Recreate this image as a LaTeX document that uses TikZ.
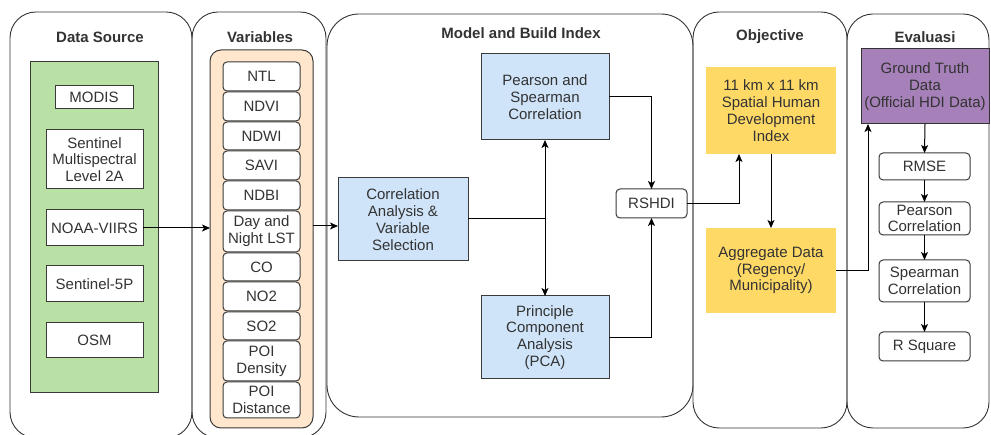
\documentclass[tikz,border=0pt]{standalone}
\usepackage{fontspec}
\setmainfont{Liberation Sans}
\usetikzlibrary{arrows.meta}
\definecolor{txt}{HTML}{333333}
\definecolor{greenf}{HTML}{B9E0A5}
\definecolor{orangef}{HTML}{FFE6CC}
\definecolor{bluef}{HTML}{CFE4F8}
\definecolor{yellowf}{HTML}{FFD966}
\definecolor{purplef}{HTML}{A680B8}
\definecolor{edge}{HTML}{3A3A3A}
\newcommand\bx[7]{%
  \pgfmathsetmacro\bw{#4-#2}\pgfmathsetmacro\bh{#5-#3}%
  \node[#6, minimum width=\bw pt, minimum height=\bh pt] (#1) at ({(#2+#4)/2},{(#3+#5)/2}) {#7};}
\tikzset{
  base/.style={inner sep=0pt, outer sep=0pt, align=center, text=txt,
    font=\fontsize{15}{16.8}\selectfont},
  panel/.style={base, draw=black!80, line width=0.9pt, rounded corners=26pt},
  ttl/.style={inner sep=0pt, text=txt, font=\fontsize{15}{17}\selectfont\bfseries},
  sq/.style={base, draw=edge, line width=1pt, fill=white},
  rnd/.style={base, draw=edge, line width=1pt, fill=white, rounded corners=4pt},
  greenbox/.style={base, draw=edge, line width=1pt, fill=greenf},
  orangebox/.style={base, draw=edge, line width=1pt, fill=orangef, rounded corners=11pt},
  bluebox/.style={base, draw=edge, line width=1pt, fill=bluef},
  yellowbox/.style={base, fill=yellowf},
  purplebox/.style={base, draw=black!80, line width=1pt, fill=purplef},
  arr/.style={draw=black, line width=1pt, -{Stealth[length=8pt,width=7pt,inset=2pt]}},
  ln/.style={draw=black, line width=1pt}
}
\begin{document}
\begin{tikzpicture}[x=1pt,y=-1pt]
\useasboundingbox[fill=white] (0,0) rectangle (991,435);
% panels
\bx{pds}{10}{12}{192}{438}{panel}{}
\bx{pvar}{192}{12}{326}{438}{panel}{}
\bx{pmod}{327}{14}{693}{417}{panel, rounded corners=32pt}{}
\bx{pobj}{693}{12}{847}{428}{panel}{}
\bx{peva}{847}{14}{989}{428}{panel}{}
% titles
\node[ttl] (tds) at (100,37) {Data Source};
\node[ttl] (tvar) at (260,37) {Variables};
\node[ttl] (tmod) at (521,33) {Model and Build Index};
\node[ttl] (tobj) at (770,37) {Objective};
\node[ttl] (teva) at (925,37) {Evaluasi};
% data source
\bx{green}{30}{62}{158}{393}{greenbox}{}
\bx{modis}{55}{86}{133}{109}{sq}{MODIS}
\bx{senti}{46}{130}{143}{189}{sq}{Sentinel\\Multispectral\\Level 2A}
\bx{noaa}{46}{210}{143}{246}{sq}{NOAA-VIIRS}
\bx{s5p}{46}{266}{143}{302}{sq}{Sentinel-5P}
\bx{osm}{46}{323}{143}{358}{sq}{OSM}
% variables
\bx{varbox}{210}{50}{313}{428}{orangebox}{}
\bx{ntl}{223}{62}{300}{91}{rnd}{NTL}
\bx{ndvi}{223}{92}{300}{121}{rnd}{NDVI}
\bx{ndwi}{223}{122}{300}{150}{rnd}{NDWI}
\bx{savi}{223}{151}{300}{180}{rnd}{SAVI}
\bx{ndbi}{223}{181}{300}{210}{rnd}{NDBI}
\bx{lst}{223}{211}{300}{252}{rnd}{Day and\\Night LST}
\bx{co}{223}{253}{300}{281}{rnd}{CO}
\bx{no2}{223}{282}{300}{311}{rnd}{NO2}
\bx{so2}{223}{312}{300}{340}{rnd}{SO2}
\bx{poid}{223}{341}{300}{381}{rnd}{POI\\Density}
\bx{poidist}{223}{382}{300}{418}{rnd}{POI\\Distance}
% model
\bx{corr}{338}{178}{468}{261}{bluebox}{Correlation\\Analysis \&\\Variable\\Selection}
\bx{pears}{481}{54}{609}{140}{bluebox}{Pearson and\\Spearman\\Correlation}
\bx{pca}{481}{296}{609}{379}{bluebox}{Principle\\Component\\Analysis\\(PCA)}
\bx{rshdi}{616}{189}{687}{218}{rnd}{RSHDI}
\coordinate (j) at (545,219);
% objective
\bx{shdi}{706}{67}{836}{154}{yellowbox}{11 km x 11 km\\Spatial Human\\Development\\Index}
\bx{agg}{706}{228}{836}{313}{yellowbox}{Aggregate Data\\(Regency/\\Municipality)}
% evaluasi
\bx{gt}{861}{49}{989}{124}{purplebox}{Ground Truth\\Data\\(Official HDI Data)}
\bx{rmse}{879}{153}{970}{180}{rnd}{RMSE}
\bx{pc}{879}{202}{970}{235}{rnd}{Pearson\\Correlation}
\bx{sc}{879}{260}{970}{302}{rnd}{Spearman\\Correlation}
\bx{rsq}{879}{332}{970}{361}{rnd}{R Square}
% connectors
\draw[arr] (noaa.east) -- (noaa.east -| varbox.west);
\coordinate (vo) at (313,226);
\draw[arr] (vo) -- (vo -| corr.west);
\draw[ln] (corr.east |- j) -- (j);
\draw[arr] (j) -- (pears.south);
\draw[arr] (j) -- (pca.north);
\draw[arr] (pears.east) -| (rshdi.north);
\draw[arr] (pca.east) -| (rshdi.south);
\draw[arr] (rshdi.east) -| ([xshift=-32pt]shdi.south);
\draw[arr] (shdi.south) -- (agg.north);
\draw[arr] (agg.east) -| ([xshift=-57pt]gt.south);
\draw[arr] (gt.south) -- (rmse.north);
\draw[arr] (rmse.south) -- (pc.north);
\draw[arr] (pc.south) -- (sc.north);
\draw[arr] (sc.south) -- (rsq.north);
\end{tikzpicture}
\end{document}
